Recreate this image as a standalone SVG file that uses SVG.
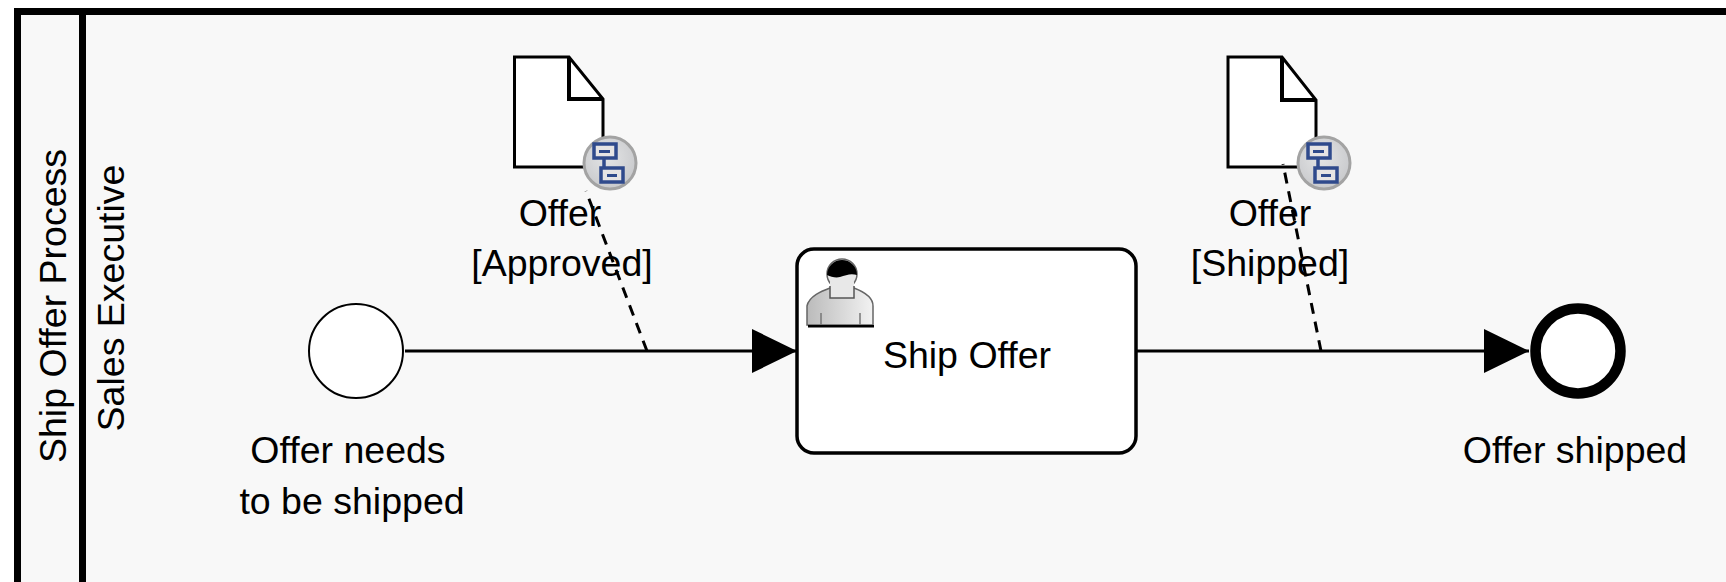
<svg xmlns="http://www.w3.org/2000/svg" width="1726" height="582" viewBox="0 0 1726 582">
<style>
text{font-family:"Liberation Sans",Arial,sans-serif;font-size:37.500px;fill:#000;text-anchor:middle}
.flow{fill:none;stroke:#000;stroke-width:3}
.assoc{fill:none;stroke:#000;stroke-width:3;stroke-dasharray:11 8}
.doc{fill:#fff;stroke:#000;stroke-width:3;stroke-linejoin:miter}
.fold{fill:none;stroke:#000;stroke-width:4}
.lane{fill:none;stroke:#000;stroke-width:7}
.pe{fill:none;stroke:#2f4a8c;stroke-width:3.500}
</style>
<defs>
<marker id="arrow" markerUnits="userSpaceOnUse" markerWidth="46" markerHeight="46" refX="45" refY="22" orient="auto"><path d="M0 0L45 22L0 44Z" fill="#000"/></marker>
<radialGradient id="badgeFill" cx="0.45" cy="0.4" r="0.7"><stop offset="0" stop-color="#e4e5e6"/><stop offset="1" stop-color="#c4c5c8"/></radialGradient>
<linearGradient id="body" x1="0" x2="1" y1="0" y2="0"><stop offset="0" stop-color="#bbb"/><stop offset="1" stop-color="#f2f2f2"/></linearGradient>
<g id="badge">
<circle r="26" fill="url(#badgeFill)" stroke="#a3a3a3" stroke-width="3"/>
<path class="pe" d="M-6 -4V5"/>
<rect class="pe" x="-16" y="-19" width="22" height="14" style="fill:#e6e4e4"/>
<rect x="-11" y="-13" width="11" height="3" fill="#2f4a8c"/>
<rect class="pe" x="-9" y="5" width="22" height="14" style="fill:#e6e4e4"/>
<rect x="-3" y="11" width="10" height="3" fill="#2f4a8c"/>
</g>
</defs>
<rect x="0" y="0" width="1726" height="582" fill="#fff"/>
<rect x="17" y="11.500" width="1720" height="580" fill="#f8f8f8"/>
<g id="pool">
<path class="lane" d="M1726 11.500H17.500V582"/>
<path class="lane" d="M82.500 8V582"/>
<text transform="translate(66 306) rotate(-90)">Ship Offer Process</text>
<text transform="translate(124 298) rotate(-90)">Sales Executive</text>
</g>
<g id="start">
<circle cx="356" cy="351" r="47" fill="#fff" stroke="#000" stroke-width="2"/>
<text x="348" y="463">Offer needs</text>
<text x="352" y="514">to be shipped</text>
</g>
<g id="task">
<rect x="797" y="249" width="339" height="204" rx="17" fill="#fff" stroke="#000" stroke-width="3.500"/>
<g id="user-icon">
<path d="M807 325V306C809 296 822 291 830 288H854C862 291 873 296 873 306V325Z" fill="url(#body)" stroke="#666" stroke-width="1.500"/>
<circle cx="842" cy="274" r="15" fill="#e8e8e8" stroke="#666" stroke-width="1.500"/>
<path d="M830 282V298H854V282Z" fill="#e8e8e8"/>
<path d="M830 286V298H854V286" fill="none" stroke="#555" stroke-width="1.500"/>
<path d="M821 313V325M860 313V325" stroke="#777" stroke-width="1.500" fill="none"/>
<path d="M827 275A15 15 0 1 1 857 275C851 273 846 275 840 277C836 278 831 277 827 275Z" fill="#000"/>
<rect x="808" y="325" width="66" height="2.500" fill="#000"/>
</g>
<text x="967" y="368">Ship Offer</text>
</g>
<g id="end">
<circle cx="1578" cy="351" r="42.500" fill="#fff" stroke="#000" stroke-width="10.500"/>
<text x="1575" y="463">Offer shipped</text>
</g>
<g id="doc-approved">
<path class="doc" d="M514.500 57H569L603 99V167H514.500Z"/>
<path class="fold" d="M569 57V99H603"/>
<use href="#badge" x="610" y="163"/>
<text x="560" y="226">Offer</text>
<text x="562" y="276">[Approved]</text>
</g>
<g id="doc-shipped">
<path class="doc" d="M1228 57H1282L1316 100V167H1228Z"/>
<path class="fold" d="M1282 57V100H1316"/>
<use href="#badge" x="1324" y="163"/>
<text x="1270" y="226">Offer</text>
<text x="1270" y="276">[Shipped]</text>
</g>
<g id="connectors">
<path class="flow" d="M405 351H797" marker-end="url(#arrow)"/>
<path class="flow" d="M1137 351H1529" marker-end="url(#arrow)"/>
<path class="assoc" d="M647 351L586 191"/>
<path class="assoc" d="M1321 351L1283 164"/>
</g>
</svg>
